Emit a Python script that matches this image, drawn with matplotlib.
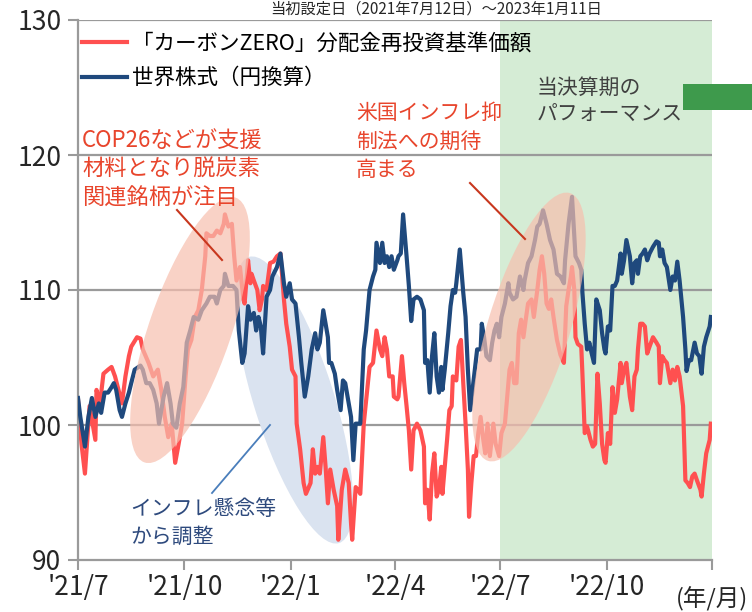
import datetime as dt
import matplotlib
matplotlib.use("Agg")
import matplotlib.pyplot as plt
import matplotlib.dates as mdates
from matplotlib.patches import Ellipse, Rectangle
from matplotlib.lines import Line2D

plt.rcParams['font.family'] = ['Noto Sans CJK JP', 'DejaVu Sans']

start = dt.date(2021, 7, 12)
end = dt.date(2023, 1, 11)
period_start = dt.date(2022, 7, 12)

# days since 2021/7/12 and index values (start = 100)
red_days = [0, 3, 6, 10, 15, 16, 19, 22, 26, 29, 32, 35, 38, 41, 44, 46, 51, 54, 56, 61,
            65, 69, 72, 75, 78, 81, 84, 87, 90, 93, 95, 98, 101, 104, 107, 110, 111, 114, 117, 120,
            123, 126, 127, 130, 133, 135, 137, 140, 143, 144, 147, 149, 150, 152, 155, 157, 159, 160, 163, 166,
            169, 172, 175, 178, 180, 183, 185, 188, 189, 192, 195, 197, 201, 203, 205, 207, 209, 212, 214, 216,
            218, 221, 224, 225, 228, 231, 234, 236, 237, 240, 242, 244, 247, 250, 252, 255, 258, 261, 263, 265,
            267, 269, 272, 273, 276, 277, 280, 282, 284, 286, 288, 290, 293, 296, 299, 300, 302, 304, 306, 308,
            310, 312, 314, 315, 317, 319, 321, 323, 324, 327, 329, 331, 333, 335, 337, 338, 340, 342, 344, 346,
            348, 350, 352, 354, 356, 359, 361, 364, 366, 369, 371, 373, 375, 377, 379, 381, 383, 385, 387, 389,
            392, 394, 397, 399, 401, 403, 405, 407, 409, 411, 414, 417, 420, 422, 424, 426, 427, 429, 430, 432,
            435, 436, 438, 440, 443, 445, 447, 449, 451, 453, 455, 456, 458, 460, 462, 464, 466, 469, 470, 472,
            474, 477, 479, 481, 483, 484, 486, 488, 490, 492, 494, 497, 500, 502, 503, 505, 507, 509, 512, 514,
            516, 518, 520, 523, 525, 527, 529, 531, 533, 535, 538, 539, 541, 543, 546, 547]
red_vals = [101.9, 98.6, 96.4, 101.4, 98.9, 102.6, 101.6, 103.8, 104.1, 104.3, 103.6, 102.6, 101.6, 103.6, 105.1, 105.8, 106.5, 106.4, 105.6, 104.6,
            103.6, 104.1, 102.6, 100.6, 99.1, 100.1, 97.2, 98.6, 100.1, 103.6, 105.6, 106.3, 108.0, 108.5, 110.0, 112.5, 114.2, 114.0, 114.0, 114.4,
            114.2, 114.9, 115.6, 114.7, 114.9, 112.5, 110.7, 111.7, 109.3, 109.0, 112.2, 110.5, 111.2, 110.7, 110.0, 108.5, 109.3, 110.3, 110.0, 112.0,
            112.1, 112.5, 112.7, 109.3, 107.5, 105.8, 104.1, 103.6, 100.1, 98.2, 95.7, 94.9, 95.7, 98.2, 96.4, 96.9, 96.4, 99.1, 96.9, 94.2,
            96.7, 95.2, 94.0, 91.5, 95.2, 96.7, 95.7, 92.7, 91.5, 95.4, 95.2, 94.9, 100.1, 102.6, 104.3, 104.6, 107.0, 105.6, 105.1, 106.5,
            105.6, 103.6, 103.6, 102.1, 101.9, 102.1, 105.1, 103.1, 101.4, 99.6, 96.7, 99.6, 100.1, 99.6, 98.4, 94.2, 95.2, 93.0, 96.4, 97.9,
            94.7, 95.2, 96.9, 94.9, 96.9, 98.9, 101.1, 101.4, 103.6, 103.3, 105.8, 106.3, 103.1, 100.1, 96.7, 93.2, 95.7, 97.7, 97.7, 99.4,
            100.6, 99.1, 97.9, 100.1, 97.7, 100.1, 98.6, 97.7, 99.4, 100.1, 102.1, 104.1, 104.6, 103.1, 103.1, 106.8, 107.8, 106.5, 107.8, 109.0,
            109.3, 108.0, 110.0, 111.5, 112.5, 111.2, 109.0, 108.6, 109.3, 108.0, 106.3, 105.2, 104.6, 108.8, 110.0, 111.0, 111.7, 110.0, 106.5, 106.0,
            105.8, 103.8, 99.4, 99.9, 98.9, 98.4, 98.6, 103.8, 101.6, 98.6, 97.4, 97.2, 99.4, 98.6, 102.8, 100.9, 101.9, 104.6, 103.1, 104.1,
            104.6, 102.1, 101.1, 103.6, 104.1, 105.6, 107.5, 107.5, 107.3, 105.3, 105.8, 106.5, 106.1, 105.8, 103.1, 105.1, 104.8, 104.6, 103.1, 104.1,
            103.3, 104.3, 103.6, 101.4, 95.9, 95.7, 95.4, 96.2, 96.4, 95.9, 95.2, 94.7, 96.4, 97.9, 98.9, 100.1]

blue_days = [0, 2, 6, 9, 12, 15, 18, 20, 23, 26, 29, 31, 33, 36, 38, 41, 44, 46, 49, 54,
             56, 59, 62, 65, 68, 70, 74, 77, 80, 82, 85, 88, 91, 94, 97, 100, 104, 107, 111, 114,
             118, 120, 123, 126, 127, 130, 134, 137, 139, 142, 144, 147, 149, 152, 154, 156, 158, 160, 163, 166,
             168, 172, 175, 178, 180, 183, 185, 188, 191, 193, 196, 199, 202, 205, 207, 209, 212, 214, 216, 217,
             219, 222, 224, 227, 229, 231, 234, 236, 238, 240, 244, 247, 249, 251, 252, 255, 257, 258, 261, 263,
             265, 267, 269, 271, 273, 276, 277, 279, 281, 284, 286, 288, 290, 293, 296, 299, 300, 302, 304, 306,
             308, 310, 312, 314, 315, 317, 320, 322, 324, 326, 327, 330, 333, 335, 337, 339, 341, 343, 345, 348,
             349, 351, 353, 356, 358, 360, 362, 364, 366, 369, 372, 373, 376, 379, 382, 385, 386, 389, 392, 395,
             397, 399, 402, 405, 408, 411, 414, 417, 420, 421, 424, 427, 430, 433, 435, 436, 438, 440, 442, 444,
             446, 448, 451, 453, 455, 456, 458, 460, 462, 464, 466, 469, 470, 472, 474, 477, 479, 481, 483, 484,
             486, 488, 490, 492, 494, 497, 500, 502, 503, 505, 507, 509, 512, 514, 516, 518, 520, 523, 525, 526,
             528, 530, 533, 535, 537, 539, 541, 543, 546, 547]
blue_vals = [102.0, 100.6, 98.4, 100.6, 102.0, 100.6, 101.6, 100.9, 102.4, 102.4, 102.8, 103.1, 102.6, 101.1, 100.6, 101.6, 102.4, 103.1, 104.1, 104.4,
             104.1, 103.1, 103.1, 102.6, 101.6, 100.1, 102.1, 103.1, 101.6, 100.1, 99.8, 101.6, 102.8, 106.1, 107.0, 108.0, 107.8, 108.5, 109.0, 109.5,
             109.5, 109.0, 110.0, 110.3, 111.2, 110.3, 110.3, 110.0, 107.0, 104.6, 105.3, 108.8, 107.8, 108.3, 107.0, 108.0, 107.3, 105.3, 109.5, 110.0,
             111.0, 111.7, 112.7, 110.5, 109.5, 110.5, 109.3, 109.0, 106.5, 104.6, 102.1, 103.6, 105.6, 106.8, 105.6, 106.1, 108.5, 107.5, 106.5, 104.6,
             104.6, 103.8, 102.6, 101.1, 103.3, 103.1, 101.6, 100.6, 97.4, 100.1, 100.1, 105.6, 107.0, 109.0, 110.0, 111.0, 111.5, 113.5, 112.0, 113.5,
             112.0, 112.5, 111.7, 112.5, 111.5, 112.2, 112.5, 112.7, 115.6, 112.5, 110.3, 107.7, 109.3, 109.5, 109.3, 108.5, 104.6, 104.8, 102.4, 105.1,
             106.8, 103.6, 102.4, 104.3, 102.6, 104.1, 106.8, 108.8, 110.0, 109.8, 110.5, 113.0, 109.8, 108.0, 104.1, 101.1, 102.6, 104.1, 105.6, 105.6,
             107.5, 106.5, 105.1, 104.8, 106.1, 107.0, 107.5, 106.5, 108.0, 109.0, 110.5, 109.8, 109.3, 109.5, 111.0, 110.0, 110.7, 112.0, 112.5, 113.7,
             114.7, 114.9, 115.9, 114.9, 113.7, 113.0, 111.2, 111.0, 110.5, 112.2, 114.9, 116.9, 112.5, 112.0, 111.5, 109.8, 107.5, 105.6, 106.1, 105.3,
             104.6, 109.3, 108.5, 106.8, 105.6, 105.3, 107.3, 107.0, 110.3, 110.3, 110.7, 112.7, 111.2, 112.2, 113.7, 112.5, 110.5, 112.0, 112.2, 111.2,
             112.5, 112.7, 113.0, 112.2, 112.7, 113.2, 113.6, 113.5, 112.5, 113.0, 112.0, 111.7, 110.0, 111.0, 110.7, 112.1, 110.7, 108.0, 105.6, 104.0,
             104.8, 104.8, 106.1, 105.3, 105.1, 103.8, 105.8, 106.5, 107.3, 108.0]

tick_dates = [dt.date(2021, 7, 12), dt.date(2021, 10, 12), dt.date(2022, 1, 12), dt.date(2022, 4, 12),
              dt.date(2022, 7, 12), dt.date(2022, 10, 12), dt.date(2023, 1, 11)]
tick_labels = ["'21/7", "'21/10", "'22/1", "'22/4", "'22/7", "'22/10", ""]
y_ticks = [90, 100, 110, 120, 130]

red_dates = [start + dt.timedelta(days=d) for d in red_days]
blue_dates = [start + dt.timedelta(days=d) for d in blue_days]

W, H = 752, 612
fig = plt.figure(figsize=(W / 100, H / 100), dpi=100)
ax = fig.add_axes([78 / W, 1 - 560 / H, (712 - 78) / W, (560 - 20) / H])


def fx(x):
    return x / W


def fy(y):
    return 1 - y / H


red = "#FF5050"
navy = "#1F497D"
grey = "#9A9A9A"

ax.axvspan(period_start, end, color="#D5ECD5", zorder=0, lw=0)
for v in y_ticks[1:]:
    ax.axhline(v, color=grey, lw=1.6, zorder=0.5)

# blue ellipse sits behind the lines
ax.add_patch(Ellipse((2.94, 6.12 - 4.0), 3.0, 0.8, angle=-72.5, facecolor="#DAE3F0",
                     edgecolor="none", transform=fig.dpi_scale_trans, zorder=1))

ax.plot(red_dates, red_vals, color=red, lw=3, label="「カーボンZERO」分配金再投資基準価額", zorder=2)
ax.plot(blue_dates, blue_vals, color=navy, lw=3, label="世界株式（円換算）", zorder=3)

# pink ellipses fade the lines underneath
for cx, cy, ang in [(190, 330, 71), (529, 327, 73)]:
    ax.add_patch(Ellipse((cx / 100, (H - cy) / 100), 2.8, 0.82, angle=ang, facecolor="#F7BFAE",
                         edgecolor="none", alpha=0.7, transform=fig.dpi_scale_trans, zorder=4))

ax.set_xlim(start, end)
ax.set_ylim(90, 130)
ax.set_yticks(y_ticks)
ax.set_xticks([mdates.date2num(d) for d in tick_dates])
ax.set_xticklabels(tick_labels)
ax.tick_params(axis="both", labelsize=19, colors=grey, labelcolor="#262626", length=7, width=1.5)
ax.tick_params(axis="x", pad=3)
ax.tick_params(axis="y", pad=5)
for s in ["top", "right"]:
    ax.spines[s].set_visible(False)
for s in ["left", "bottom"]:
    ax.spines[s].set_color(grey)
    ax.spines[s].set_linewidth(1.6)

ax.legend(loc="upper left", bbox_to_anchor=(fx(80), fy(30)), bbox_transform=fig.transFigure,
          frameon=False, fontsize=15.5, handlelength=2.1, handletextpad=0.2,
          labelspacing=0.6, borderpad=0.1, borderaxespad=0)

ann_red = "#E8452C"
fig.text(fx(82), fy(129), "COP26などが支援\n材料となり脱炭素\n関連銘柄が注目", color=ann_red,
         fontsize=16, va="top", ha="left", linespacing=1.32)
fig.text(fx(356), fy(102), "米国インフレ抑\n制法への期待\n高まる", color=ann_red,
         fontsize=15, va="top", ha="left", linespacing=1.38)
fig.text(fx(537), fy(77), "当決算期の\nパフォーマンス", color="#404040",
         fontsize=15, va="top", ha="left", linespacing=1.3)
fig.text(fx(130), fy(498), "インフレ懸念等\nから調整", color="#2E4A7D",
         fontsize=15, va="top", ha="left", linespacing=1.35)

fig.add_artist(Line2D([fx(177), fx(222)], [fy(210), fy(260)], color="#C8371E", lw=1.5))
fig.add_artist(Line2D([fx(470), fx(525)], [fy(183), fy(239)], color="#C8371E", lw=1.5))
fig.add_artist(Line2D([fx(212), fx(270)], [fy(493), fy(425)], color="#4A7EBB", lw=1.3))

fig.add_artist(Rectangle((fx(683), fy(110)), fx(80), 26 / H, facecolor="#3E9A4C", edgecolor="none"))

fig.text(fx(748), fy(599), "(年/月)", fontsize=17, ha="right", va="center", color="#262626")
fig.text(fx(436), fy(1), "当初設定日（2021年7月12日）～2023年1月11日", fontsize=11,
         ha="center", va="top", color="#262626")

fig.savefig("out.png", dpi=100)
